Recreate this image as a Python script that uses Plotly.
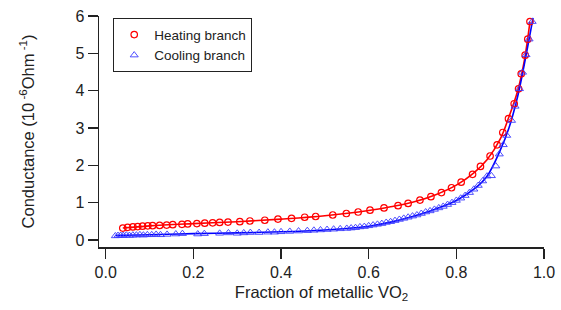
import plotly.graph_objects as go

# Heating branch (red circles)
heat_x = [0.039, 0.050, 0.062, 0.073, 0.084, 0.096, 0.107, 0.123, 0.139, 0.153, 0.174, 0.187,
          0.208, 0.226, 0.244, 0.260, 0.279, 0.306, 0.329, 0.363, 0.393, 0.424, 0.454, 0.479,
          0.518, 0.549, 0.576, 0.603, 0.635, 0.667, 0.690, 0.717, 0.742, 0.766, 0.789, 0.811,
          0.837, 0.855, 0.877, 0.893, 0.906, 0.919, 0.932, 0.942, 0.948, 0.957, 0.963, 0.968]
heat_y = [0.32, 0.34, 0.35, 0.36, 0.37, 0.38, 0.385, 0.39, 0.40, 0.41, 0.42, 0.43,
          0.44, 0.45, 0.46, 0.47, 0.48, 0.49, 0.51, 0.53, 0.56, 0.58, 0.61, 0.63,
          0.67, 0.71, 0.75, 0.80, 0.86, 0.92, 0.98, 1.07, 1.16, 1.27, 1.40, 1.55,
          1.76, 1.97, 2.25, 2.55, 2.88, 3.25, 3.65, 4.05, 4.45, 4.95, 5.38, 5.85]

# Cooling branch (blue triangles)
cool_x = [0.022, 0.028, 0.034, 0.040, 0.047, 0.054, 0.062, 0.070, 0.078, 0.086, 0.095, 0.105,
          0.115, 0.125, 0.140, 0.160, 0.175, 0.210, 0.225, 0.260, 0.280, 0.300, 0.315, 0.330,
          0.350, 0.370, 0.385, 0.400, 0.420, 0.440, 0.460, 0.475, 0.490, 0.505, 0.520, 0.535,
          0.550, 0.560, 0.570, 0.580, 0.590, 0.600, 0.610, 0.620, 0.630, 0.640, 0.650, 0.660,
          0.670, 0.680, 0.690, 0.700, 0.710, 0.720, 0.730, 0.740, 0.750, 0.760, 0.770, 0.780,
          0.790, 0.800, 0.810, 0.820, 0.830, 0.840, 0.850, 0.860, 0.870, 0.880, 0.890, 0.898,
          0.907, 0.915, 0.926, 0.934, 0.944, 0.951, 0.959, 0.966, 0.973]
cool_y = [0.11, 0.12, 0.12, 0.12, 0.13, 0.12, 0.13, 0.13, 0.14, 0.13, 0.14, 0.14,
          0.15, 0.14, 0.15, 0.16, 0.17, 0.16, 0.17, 0.18, 0.19, 0.18, 0.19, 0.20,
          0.20, 0.21, 0.21, 0.22, 0.23, 0.24, 0.25, 0.26, 0.27, 0.28, 0.29, 0.30,
          0.31, 0.32, 0.33, 0.35, 0.36, 0.38, 0.40, 0.42, 0.44, 0.47, 0.49, 0.52,
          0.55, 0.58, 0.61, 0.64, 0.67, 0.71, 0.75, 0.78, 0.82, 0.86, 0.90, 0.95,
          1.00, 1.06, 1.12, 1.19, 1.27, 1.36, 1.46, 1.58, 1.71, 1.72, 1.98, 2.30,
          2.55, 2.80, 3.20, 3.58, 4.05, 4.49, 4.96, 5.38, 5.85]

# Fit curves
heat_fit_x = [0.039, 0.10, 0.20, 0.30, 0.40, 0.50, 0.60, 0.65, 0.70, 0.75, 0.80, 0.84,
              0.87, 0.90, 0.92, 0.94, 0.955, 0.968]
heat_fit_y = [0.32, 0.38, 0.44, 0.49, 0.56, 0.65, 0.79, 0.89, 1.01, 1.20, 1.47, 1.80,
              2.15, 2.70, 3.30, 4.00, 4.80, 5.85]
cool_fit_x = [0.022, 0.10, 0.20, 0.30, 0.40, 0.50, 0.55, 0.60, 0.65, 0.70, 0.75, 0.80,
              0.84, 0.87, 0.90, 0.92, 0.94, 0.955, 0.975]
cool_fit_y = [0.12, 0.14, 0.17, 0.19, 0.22, 0.27, 0.31, 0.37, 0.48, 0.63, 0.82, 1.06,
              1.36, 1.71, 2.40, 3.00, 3.85, 4.70, 5.95]

x_ticks = [0.0, 0.2, 0.4, 0.6, 0.8, 1.0]
y_ticks = [0, 1, 2, 3, 4, 5, 6]

RED = "#ff0000"
BLUE = "#0000ff"
FONT = "Arial, 'Liberation Sans', sans-serif"

fig = go.Figure()
fig.add_trace(go.Scatter(x=heat_fit_x, y=heat_fit_y, mode="lines", line=dict(color=RED, width=1.6, shape="spline"),
                         showlegend=False, hoverinfo="skip"))
fig.add_trace(go.Scatter(x=cool_fit_x, y=cool_fit_y, mode="lines", line=dict(color=BLUE, width=1.6, shape="spline"),
                         showlegend=False, hoverinfo="skip"))
fig.add_trace(go.Scatter(x=heat_x, y=heat_y, mode="markers", name="Heating branch",
                         marker=dict(symbol="circle-open", size=6.5, color=RED, line=dict(width=1.2))))
fig.add_trace(go.Scatter(x=cool_x, y=cool_y, mode="markers", name="Cooling branch",
                         marker=dict(symbol="triangle-up-open", size=7, color="#3b3bff", line=dict(width=0.9))))

axis_common = dict(showgrid=False, zeroline=False, showline=True, linecolor="#222", linewidth=1.5,
                   ticks="outside", ticklen=10, tickwidth=1.5, tickcolor="#222", automargin=False,
                   tickfont=dict(family=FONT, size=16, color="#222"))

fig.update_layout(
    width=561, height=310,
    margin=dict(l=99, r=17, t=16, b=63),
    paper_bgcolor="white", plot_bgcolor="white",
    font=dict(family=FONT, color="#222"),
    hovermode=False,
    xaxis=dict(range=[-0.0153, 1.0], tickvals=x_ticks, ticktext=[f"{v:.1f}" for v in x_ticks],
               title=dict(text="Fraction of metallic VO<sub>2</sub>", font=dict(family=FONT, size=16.5, color="#222"),
                          standoff=6),
               **axis_common),
    yaxis=dict(range=[-0.187, 6.0], tickvals=y_ticks,
               title=dict(text="Conductance (10<sup> -6</sup>Ohm<sup> -1</sup>)", font=dict(family=FONT, size=16.5, color="#222"),
                          standoff=36),
               **axis_common),
    legend=dict(x=0.0315, y=0.991, xanchor="left", yanchor="top", bordercolor="#222", borderwidth=1.2,
                bgcolor="white", font=dict(family=FONT, size=13.5, color="#222"), tracegroupgap=0,
                itemwidth=30),
    showlegend=True,
)

fig.write_html("out.html", config={"displayModeBar": False, "staticPlot": True},
               post_script="document.body.style.margin='0';document.body.style.padding='0';")
